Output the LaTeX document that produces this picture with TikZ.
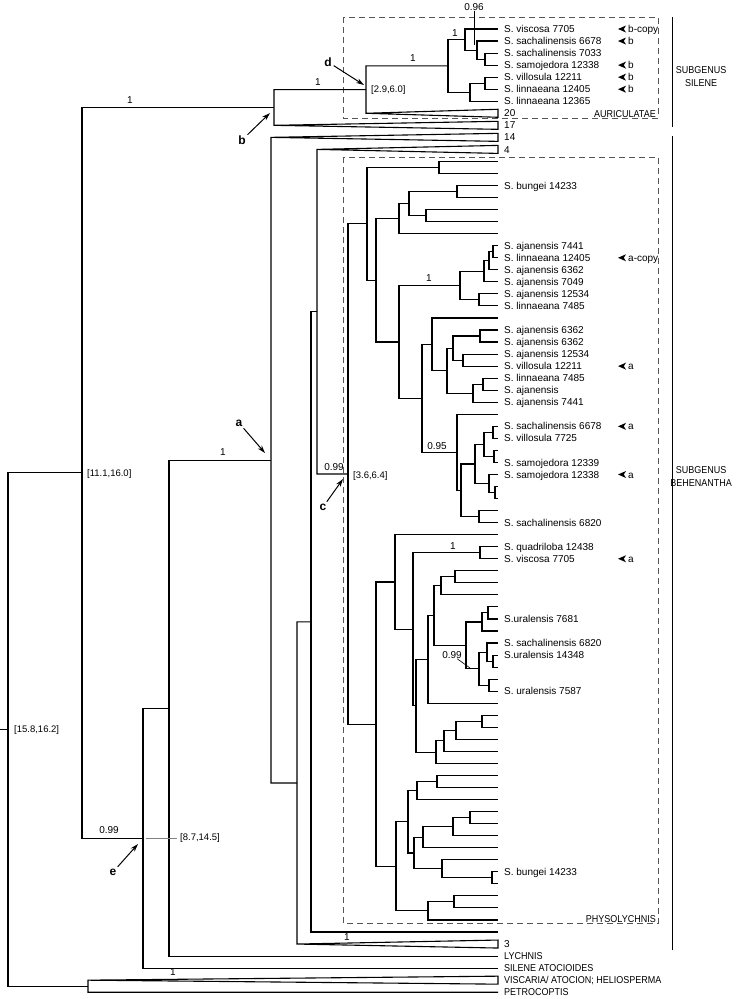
\documentclass[tikz,border=0pt]{standalone}
\usepackage{graphicx}
\usepackage{fontspec}
\setmainfont{Liberation Sans}
\usetikzlibrary{calc,arrows.meta}
\definecolor{boxline}{RGB}{85,85,85}
\definecolor{noteline}{RGB}{130,130,130}
\newcommand{\narrow}[1]{\scalebox{0.9}[1]{#1}}
\newcommand{\clade}[4]{%
\path let \p1=(#3), \p2=(#4) in coordinate (#1) at (#2pt,{0.5*\y1+0.5*\y2});
\draw[branch] (#1) |- (#3) (#1) |- (#4);}
\newcommand{\cladet}[4]{%
\path let \p1=(#3), \p2=(#4) in coordinate (#1) at (#2pt,{0.5*\y1+0.5*\y2});
\draw[branch] (#1) |- (#3) (#1) -- (#1 |- #4) -- ($(#4)+(0,-4)$) -- ($(#4)+(0,4)$) -- (#1 |- #4);}

\begin{document}
\begin{tikzpicture}[x=1pt,y=-1pt,
  branch/.style={line width=1.1pt},
  leaf/.style={anchor=west,xshift=6pt,inner sep=0pt,text height=7.2pt,text depth=0pt,font=\fontsize{10}{12}\selectfont},
  caps/.style={inner sep=0pt,text height=7.2pt,text depth=0pt,font=\fontsize{10}{12}\selectfont},
  value/.style={inner sep=0pt,font=\fontsize{10}{12}\selectfont},
  interval/.style={anchor=west,inner sep=0pt,font=\fontsize{9.5}{11}\selectfont},
  letter/.style={inner sep=1pt,font=\bfseries\fontsize{12}{14}\selectfont},
  pointer/.style={line width=1pt,-{Stealth[length=8pt,width=5pt]},shorten <=1pt},
  group/.style={draw=boxline,line width=0.8pt,dash pattern=on 6pt off 4pt},
  note/.style={line width=0.6pt}]
\useasboundingbox (0,0) rectangle (741,999);
\foreach \i in {0,...,80} \coordinate (l\i) at (498,{29+12.04*\i});

\draw[group] (343,17) rectangle (658,118);
\draw[group] (343,157) rectangle (658,923);

\clade{s5}{485}{l2}{l3}
\clade{s4}{477}{l1}{s5}
\clade{s3}{465}{l0}{s4}
\clade{s7}{485}{l4}{l5}
\clade{s6}{470}{s7}{l6}
\clade{s2}{448}{s3}{s6}
\cladet{sd}{366}{s2}{l7}
\cladet{sb}{274}{sd}{l8}

\clade{p1}{439}{l11}{l12}
\clade{p4}{457}{l13}{l14}
\clade{p5}{426}{l15}{l16}
\clade{p3}{409}{p4}{p5}
\clade{p2}{399}{p3}{l17}
\clade{q1}{493}{l18}{l19}
\clade{q2}{489}{q1}{l20}
\clade{q3}{484}{q2}{l21}
\clade{q4}{479}{l22}{l23}
\clade{q5}{460}{q3}{q4}
\clade{r1}{480}{l25}{l26}
\clade{r2}{463}{l27}{l28}
\clade{r3}{453}{r1}{r2}
\clade{r4}{483}{l29}{l30}
\clade{r5}{473}{r4}{l31}
\clade{r6}{447}{r3}{r5}
\clade{r7}{432}{l24}{r6}
\clade{t1}{493}{l33}{l34}
\clade{t2}{494}{l35}{l36}
\clade{t3}{484}{t1}{t2}
\clade{t4}{495}{l38}{l39}
\clade{t5}{489}{l37}{t4}
\clade{t6}{475}{t3}{t5}
\clade{t7}{479}{l40}{l41}
\clade{t8}{461}{t6}{t7}
\clade{t9}{457}{l32}{t8}
\clade{r8}{422}{r7}{t9}
\clade{q6}{399}{q5}{r8}
\clade{p6}{376}{p2}{q6}
\clade{p7}{367}{p1}{p6}

\clade{u1}{480}{l43}{l44}
\clade{u2}{455}{l45}{l46}
\clade{u3}{441}{u2}{l47}
\clade{u4}{488}{l48}{l49}
\clade{u5}{482}{u4}{l50}
\clade{u6}{493}{l52}{l53}
\clade{u7}{487}{l51}{u6}
\clade{u8}{489}{l54}{l55}
\clade{u9}{479}{u7}{u8}
\clade{u10}{466}{u5}{u9}
\clade{u11}{434}{u3}{u10}
\clade{u12}{428}{u11}{l56}
\clade{v1}{482}{l57}{l58}
\clade{v2}{456}{v1}{l59}
\clade{v3}{444}{v2}{l60}
\clade{v4}{436}{v3}{l61}
\clade{u13}{416}{u12}{v4}
\clade{u14}{413}{u1}{u13}
\clade{u15}{395}{l42}{u14}
\clade{w1}{437}{l62}{l63}
\clade{w2}{417}{w1}{l64}
\clade{w3}{470}{l65}{l66}
\clade{w4}{453}{w3}{l67}
\clade{w5}{423}{w4}{l68}
\clade{w6}{492}{l70}{l71}
\clade{w7}{442}{l69}{w6}
\clade{w8}{414}{w5}{w7}
\clade{w9}{408}{w2}{w8}
\clade{w10}{454}{l72}{l73}
\clade{w11}{428}{w10}{l74}
\clade{w12}{396}{w9}{w11}
\clade{u16}{376}{u15}{w12}
\clade{pc}{348}{p7}{u16}

\cladet{n4}{317}{pc}{l10}
\clade{n3}{311}{n4}{l75}
\cladet{n2}{297}{n3}{l76}
\cladet{na}{271}{n2}{l9}
\clade{nl}{169}{na}{l77}
\clade{ne}{143}{nl}{l78}
\clade{nb}{82}{sb}{ne}
\cladet{nv}{88}{l80}{l79}
\clade{root}{8}{nb}{nv}
\coordinate (stub) at ($(root)+(-8,0)$);
\draw[branch] (root) -- (stub);

\foreach \i/\t in {0/S. viscosa 7705,1/S. sachalinensis 6678,2/S. sachalinensis 7033,3/S. samojedora 12338,
  4/S. villosula 12211,5/S. linnaeana 12405,6/S. linnaeana 12365,7/20,8/17,9/14,10/4,
  13/S. bungei 14233,18/S. ajanensis 7441,19/S. linnaeana 12405,20/S. ajanensis 6362,21/S. ajanensis 7049,
  22/S. ajanensis 12534,23/S. linnaeana 7485,25/S. ajanensis 6362,26/S. ajanensis 6362,27/S. ajanensis 12534,
  28/S. villosula 12211,29/S. linnaeana 7485,30/S. ajanensis,31/S. ajanensis 7441,33/S. sachalinensis 6678,
  34/S. villosula 7725,36/S. samojedora 12339,37/S. samojedora 12338,41/S. sachalinensis 6820,
  43/S. quadriloba 12438,44/S. viscosa 7705,49/S.uralensis 7681,51/S. sachalinensis 6820,
  52/S.uralensis 14348,55/S. uralensis 7587,70/S. bungei 14233,76/3}
  \node[leaf] (t\i) at (l\i) {\t};
\node[leaf] (t77) at (l77) {\narrow{LYCHNIS}};
\node[leaf] (t78) at (l78) {\narrow{SILENE ATOCIOIDES}};
\node[leaf] (t79) at (l79) {\narrow{VISCARIA/ ATOCION; HELIOSPERMA}};
\node[leaf] (t80) at (l80) {\narrow{PETROCOPTIS}};

\foreach \i/\m in {0/b-copy,1/b,3/b,4/b,5/b,19/a-copy,28/a,33/a,37/a,44/a}{
  \fill ($(l\i)+(120,0)$) -- ++(8,-3.5) -- ++(-2.2,3.5) -- ++(2.2,3.5) -- cycle;
  \node[leaf] (m\i) at ($(l\i)+(124,0)$) {\m};
}

\node[caps,anchor=east] (auric) at (656,114) {\narrow{AURICULATAE}};
\node[caps,anchor=east] (physo) at (656,919) {\narrow{PHYSOLYCHNIS}};
\draw[line width=0.8pt] (672,17) -- (672,127);
\draw[line width=0.8pt] (672,136) -- (672,950);
\node[caps] (subsila) at (701,70) {\narrow{SUBGENUS}};
\node[caps] (subsilb) at (701,83) {\narrow{SILENE}};
\node[caps] (subbeha) at (701,470) {\narrow{SUBGENUS}};
\node[caps] (subbehb) at (701,483) {\narrow{BEHENANTHA}};

\node[value] (v1a) at (130,100) {1};
\node[value] (v1b) at (318,82) {1};
\node[value] (v1c) at (413,58) {1};
\node[value] (v1d) at (455,33) {1};
\node[value] (v096) at (474,7) {0.96};
\coordinate (p096) at (474,45);
\draw[note] (v096) -- (p096);
\node[interval] (ad) at (371,90) {[2.9,6.0]};
\node[value] (v1e) at (223,452) {1};
\node[interval] (ab) at (87,474) {[11.1,16.0]};
\node[value] (v1f) at (429,278) {1};
\node[value] (v095) at (437,446) {0.95};
\node[value,anchor=east] (v099a) at (344,467) {0.99};
\node[interval] (ac) at (353,476) {[3.6,6.4]};
\node[value] (v1g) at (453,546) {1};
\node[value] (v099b) at (452,655) {0.99};
\coordinate (p099) at (470,668);
\draw[note] (v099b) -- (p099);
\node[value] (v1h) at (347,937) {1};
\node[value] (v099c) at (109,830) {0.99};
\node[interval] (ae) at (180,838) {[8.7,14.5]};
\coordinate (pe) at (146,838);
\draw[note,draw=noteline,shorten >=3pt] (pe) -- (ae.west);
\node[value] (v1i) at (173,972) {1};
\node[interval] (aroot) at (14,730) {[15.8,16.2]};

\node[letter] (ka) at (239,423) {a};
\node[letter] (kb) at (242,140) {b};
\node[letter] (kc) at (323,507) {c};
\node[letter] (kd) at (328,62) {d};
\node[letter] (ke) at (113,872) {e};
\coordinate (tipa) at (265,453);
\coordinate (tipb) at (270,113);
\coordinate (tipc) at (343,479);
\coordinate (tipd) at (364,85);
\coordinate (tipe) at (138,844);
\draw[pointer] (ka) -- (tipa);
\draw[pointer] (kb) -- (tipb);
\draw[pointer] (kc) -- (tipc);
\draw[pointer] (kd) -- (tipd);
\draw[pointer] (ke) -- (tipe);
\end{tikzpicture}
\end{document}
